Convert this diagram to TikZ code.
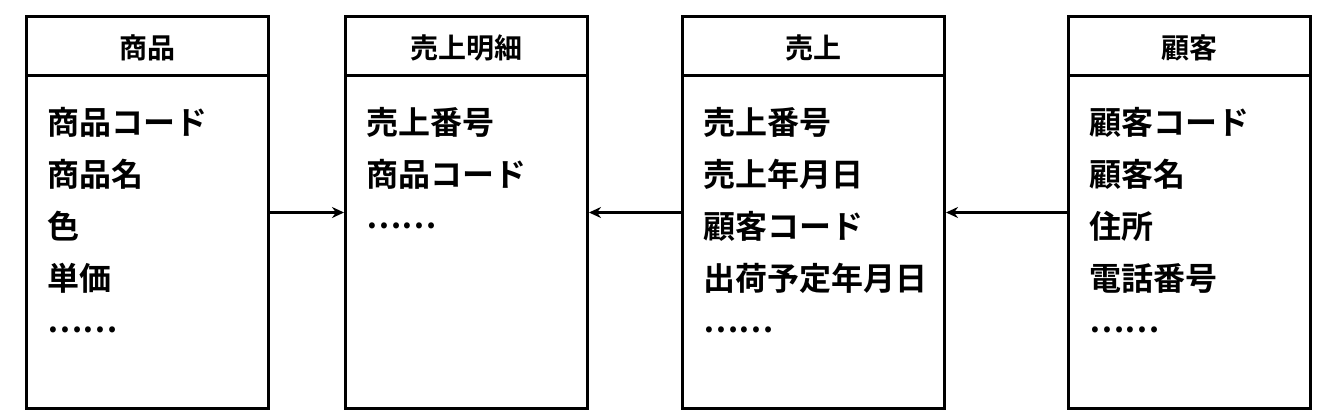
\documentclass[tikz,border=0pt]{standalone}
\usepackage{fontspec}
\newfontfamily\cjk{Noto Sans CJK JP}[BoldFont={Noto Sans CJK JP Bold}]
\usetikzlibrary{positioning,arrows.meta}
\tikzset{
  entity/.style={draw,line width=3pt,minimum height=392pt,anchor=north west,inner sep=0pt},
  title/.style={font=\cjk\bfseries\fontsize{28}{28}\selectfont},
  attr/.style={font=\cjk\bfseries\fontsize{32}{32}\selectfont,anchor=west,inner sep=0pt},
  link/.style={line width=3pt,-{Stealth[length=12pt,width=11pt]}}
}
\begin{document}
\begin{tikzpicture}[x=1pt,y=-1pt]
  \useasboundingbox (0,0) rectangle (1326,416);
  % entities
  \node[entity,minimum width=242pt] (shohin) at (25,15) {};
  \node[entity,minimum width=242pt] (meisai) at (344,15) {};
  \node[entity,minimum width=262pt] (uriage) at (681,15) {};
  \node[entity,minimum width=242pt] (kokyaku) at (1067,15) {};
  \foreach \e/\t in {shohin/商品,meisai/売上明細,uriage/売上,kokyaku/顧客}{
    \draw[line width=3pt] ([yshift=-60pt]\e.north west) -- ([yshift=-60pt]\e.north east);
    \node[title] at ([yshift=-33pt]\e.north) {\t};
  }
  % attributes
  \foreach \t [count=\i] in {商品コード,商品名,色,単価,……}
    \node[attr] at (47,70+52*\i) {\t};
  \foreach \t [count=\i] in {売上番号,商品コード,……}
    \node[attr] at (366,70+52*\i) {\t};
  \foreach \t [count=\i] in {売上番号,売上年月日,顧客コード,出荷予定年月日,……}
    \node[attr] at (703,70+52*\i) {\t};
  \foreach \t [count=\i] in {顧客コード,顧客名,住所,電話番号,……}
    \node[attr] at (1089,70+52*\i) {\t};
  % relations
  \draw[link] (shohin.east) -- (meisai.west);
  \draw[link] (uriage.west) -- (meisai.east);
  \draw[link] (kokyaku.west) -- (uriage.east);
\end{tikzpicture}
\end{document}
